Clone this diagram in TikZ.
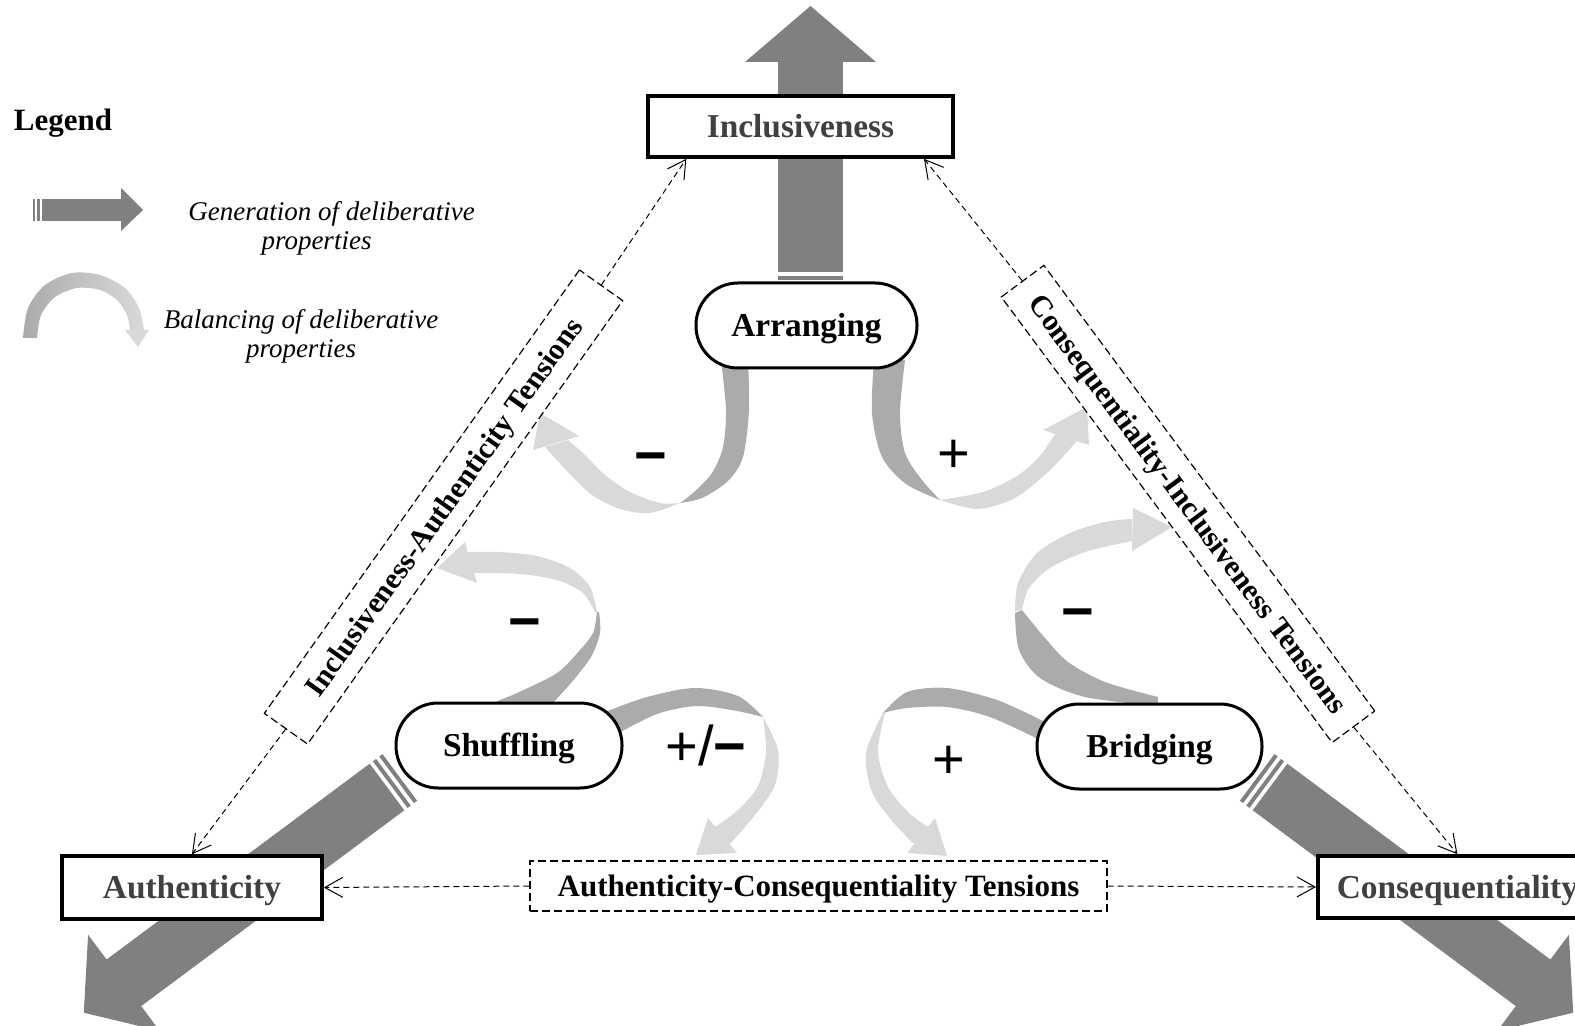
\documentclass[tikz,border=0pt]{standalone}
\usepackage{fontspec}
\setmainfont{Liberation Serif}
\newfontfamily\signfont{Liberation Sans}
\usetikzlibrary{arrows.meta,calc}
\definecolor{gen}{HTML}{808080}
\definecolor{ribdark}{HTML}{ABABAB}
\definecolor{riblight}{HTML}{D9D9D9}
\definecolor{labgray}{HTML}{404040}
\begin{document}
\begin{tikzpicture}[x=0.5pt,y=-0.5pt,
  genfill/.style={fill=gen},
  propbox/.style={draw,line width=1.8pt,fill=white,inner sep=0pt,text=labgray,text height=11.4pt,text depth=0pt,font=\fontsize{16.7pt}{20pt}\selectfont\bfseries},
  stadium/.style={draw,line width=1.5pt,fill=white,rounded corners=21pt,inner sep=0pt,minimum height=42.5pt,text height=11.4pt,text depth=0pt,font=\fontsize{16.7pt}{20pt}\selectfont\bfseries},
  tensionbox/.style={draw,line width=0.6pt,dash pattern=on 4pt off 2pt,fill=white,inner sep=0pt,text height=10.2pt,text depth=0pt,font=\fontsize{15.5pt}{18pt}\selectfont\bfseries},
  diagfont/.style={text height=9.9pt,font=\fontsize{15pt}{18pt}\selectfont\bfseries},
  tensionlink/.style={line width=0.5pt,dash pattern=on 3pt off 2pt,-{Straight Barb[length=9pt,width=10pt]}},
  signmark/.style={anchor=base,inner sep=0pt,font=\signfont\fontsize{28pt}{30pt}\selectfont},
  legtext/.style={align=center,inner sep=0pt,font=\fontsize{13.5pt}{14.5pt}\selectfont\itshape}]
\clip (0,0) rectangle (1575,1026);

% ---------- legend ----------
\node[inner sep=0pt,font=\fontsize{15.5pt}{18pt}\selectfont\bfseries] (legtitle) at (63,123) {Legend};
\fill[genfill] (33,199) rectangle (35,221);
\fill[genfill] (37,199) rectangle (40,221);
\fill[genfill] (42,199) rectangle (121,221);
\fill[genfill] (121,188) -- (143,210) -- (121,231) -- cycle;
\node[legtext] (leggen) at (331.5,228.5) {Generation of deliberative\\properties\hspace*{15pt}};
\shade[left color=ribdark,right color=riblight] plot[smooth] coordinates {(23,338) (28,308) (45,285) (72,273) (100,275) (125,288) (139,308) (144,330)} -- plot[smooth] coordinates {(130,330) (127,315) (117,300) (100,290) (77,288) (55,297) (41,315) (37,338)} -- cycle;
\fill[riblight] (125,330) -- (149,330) -- (138,347) -- cycle;
\node[legtext] (legbal) at (301,336) {Balancing of deliberative\\properties};

% ---------- generation arrows ----------
% up
\fill[genfill] (778,62) rectangle (843,272);
\fill[genfill] (778,276) rectangle (843,280);
\fill[genfill] (778,284) rectangle (843,292);
\fill[genfill] (745,62) -- (876,62) -- (810.5,6) -- cycle;
% down left
\fill[genfill] (369.7,763.7) -- (106.6,959.5) -- (88.1,934.7) -- (83.8,1012.7) -- (159.7,1030.9) -- (141.2,1006.1) -- (404.3,810.3) -- cycle;
\fill[genfill] (372.9,761.3) -- (407.5,807.9) -- (410.7,805.5) -- (376.1,758.9) -- cycle;
\fill[genfill] (379.3,756.5) -- (413.9,803.1) -- (417.1,800.7) -- (382.5,754.1) -- cycle;
% down right
\fill[genfill] (1287.3,763.7) -- (1550.4,959.5) -- (1568.9,934.7) -- (1573.2,1012.7) -- (1497.3,1030.9) -- (1515.8,1006.1) -- (1252.7,810.3) -- cycle;
\fill[genfill] (1284.1,761.3) -- (1249.5,807.9) -- (1246.3,805.5) -- (1280.9,758.9) -- cycle;
\fill[genfill] (1277.7,756.5) -- (1243.1,803.1) -- (1239.9,800.7) -- (1274.5,754.1) -- cycle;

% ---------- balancing ribbons ----------
% Arranging -> left
\fill[ribdark] plot[smooth] coordinates {(748,360) (749,410) (743,457) (728,481) (702,498) (680,503)} -- plot[smooth] coordinates {(680,503) (693,493) (712,473) (723,447) (726,410) (721,360)} -- cycle;
\fill[riblight] plot[smooth] coordinates {(680,503) (650,513) (620,509) (592,495) (568,472) (545,447)} -- plot[smooth] coordinates {(568,440) (585,455) (605,475) (630,492) (660,503) (680,503)} -- cycle;
\fill[riblight] (533,450) -- (540,413) -- (579,436) -- cycle;
% Arranging -> right
\fill[ribdark] plot[smooth] coordinates {(874,360) (872,413) (882,457) (906,484) (940,500)} -- plot[smooth] coordinates {(940,500) (922,480) (905,453) (900,413) (905,360)} -- cycle;
\fill[riblight] plot[smooth] coordinates {(940,500) (978,509) (1015,498) (1048,472) (1077,441)} -- plot[smooth] coordinates {(1055,434) (1040,456) (1017,476) (983,492) (940,500)} -- cycle;
\fill[riblight] (1043,430) -- (1087,407) -- (1089,445) -- cycle;
% Shuffling -> up-left
\fill[ribdark] plot[smooth] coordinates {(485,706) (517,693) (557,673) (580,650) (593,633) (597,612)} -- plot[smooth] coordinates {(599,612) (600,633) (591,657) (571,683) (550,706)} -- cycle;
\fill[riblight] plot[smooth] coordinates {(597,612) (590,587) (570,568) (537,556) (500,552) (468,552)} -- plot[smooth] coordinates {(474,573) (500,573) (530,575) (560,581) (583,593) (595,612)} -- cycle;
\fill[riblight] (465,542) -- (437,568) -- (477,583) -- cycle;
% Shuffling -> down-right
\fill[ribdark] plot[smooth] coordinates {(605,712) (647,697) (695,688) (738,696) (763,717)} -- plot[smooth] coordinates {(763,717) (737,711) (697,706) (657,714) (615,735)} -- cycle;
\fill[riblight] plot[smooth] coordinates {(763,717) (778,750) (775,785) (755,815) (730,844)} -- plot[smooth] coordinates {(715,827) (738,810) (758,786) (766,752) (763,717)} -- cycle;
\fill[riblight] (708,818) -- (696,855) -- (737,853) -- cycle;
% Bridging -> up-right
\fill[ribdark] plot[smooth] coordinates {(1015,613) (1019,650) (1040,678) (1085,697) (1158,706)} -- (1158,697) -- plot[smooth] coordinates {(1158,697) (1105,682) (1068,662) (1045,638) (1022,610)} -- cycle;
\fill[riblight] plot[smooth] coordinates {(1015,611) (1018,583) (1037,553) (1070,533) (1105,522) (1132,519)} -- plot[smooth] coordinates {(1132,541) (1085,552) (1050,568) (1029,588) (1022,610)} -- cycle;
\fill[riblight] (1133,508) -- (1172,527) -- (1132,551) -- cycle;
% Bridging -> down-left
\fill[ribdark] plot[smooth] coordinates {(1045,722) (997,700) (947,688) (907,692) (883,713)} -- plot[smooth] coordinates {(883,713) (907,708) (947,707) (990,717) (1040,740)} -- cycle;
\fill[riblight] plot[smooth] coordinates {(883,713) (866,753) (872,792) (893,822) (914,844)} -- plot[smooth] coordinates {(928,827) (908,812) (888,787) (878,752) (885,713)} -- cycle;
\fill[riblight] (907,853) -- (947,856) -- (935,818) -- cycle;

% ---------- nodes ----------
\node[propbox,minimum width=152.5pt,minimum height=30.5pt] (incl) at (800.5,126.5) {Inclusiveness};
\node[propbox,minimum width=130pt,minimum height=31.5pt] (auth) at (192,887.5) {Authenticity};
\node[propbox,anchor=west,inner xsep=9.5pt,minimum height=31pt] (conseq) at (1316,887) {Consequentiality};
\node[stadium,minimum width=110.5pt] (arr) at (806.5,325.5) {Arranging};
\node[stadium,minimum width=113pt] (shuf) at (509,745.5) {Shuffling};
\node[stadium,minimum width=112.5pt] (bridge) at (1149.5,746.5) {Bridging};

\node[tensionbox,diagfont,minimum width=272pt,minimum height=26.5pt,rotate=54.6] (tIA) at (443.5,507) {Inclusiveness-Authenticity Tensions};
\node[tensionbox,diagfont,minimum width=277.5pt,minimum height=26.5pt,rotate=-53.4] (tCI) at (1188,504) {Consequentiality-Inclusiveness Tensions};
\node[tensionbox,minimum width=288.5pt,minimum height=25pt] (tAC) at (818.5,886) {Authenticity-Consequentiality Tensions};

% ---------- tension links ----------
\draw[tensionlink] (tIA.east) -- ($(incl.south west)!0.13!(incl.south east)$);
\draw[tensionlink] (tIA.west) -- (auth.north);
\draw[tensionlink] (tCI.west) -- ($(incl.south west)!0.9!(incl.south east)$);
\draw[tensionlink] (tCI.east) -- (conseq.north);
\draw[tensionlink] (tAC.west) -- (auth.east);
\draw[tensionlink] (tAC.east) -- (conseq.west);

% ---------- signs ----------
\node[signmark] (s1) at (651,475) {\bfseries −};
\node[signmark] (s2) at (954,473) {+};
\node[signmark] (s3) at (525,640) {\bfseries −};
\node[signmark] (s4) at (706,765) {+/\textbf{−}};
\node[signmark] (s5) at (1078,630) {\bfseries −};
\node[signmark] (s6) at (949,778) {+};
\end{tikzpicture}
\end{document}
